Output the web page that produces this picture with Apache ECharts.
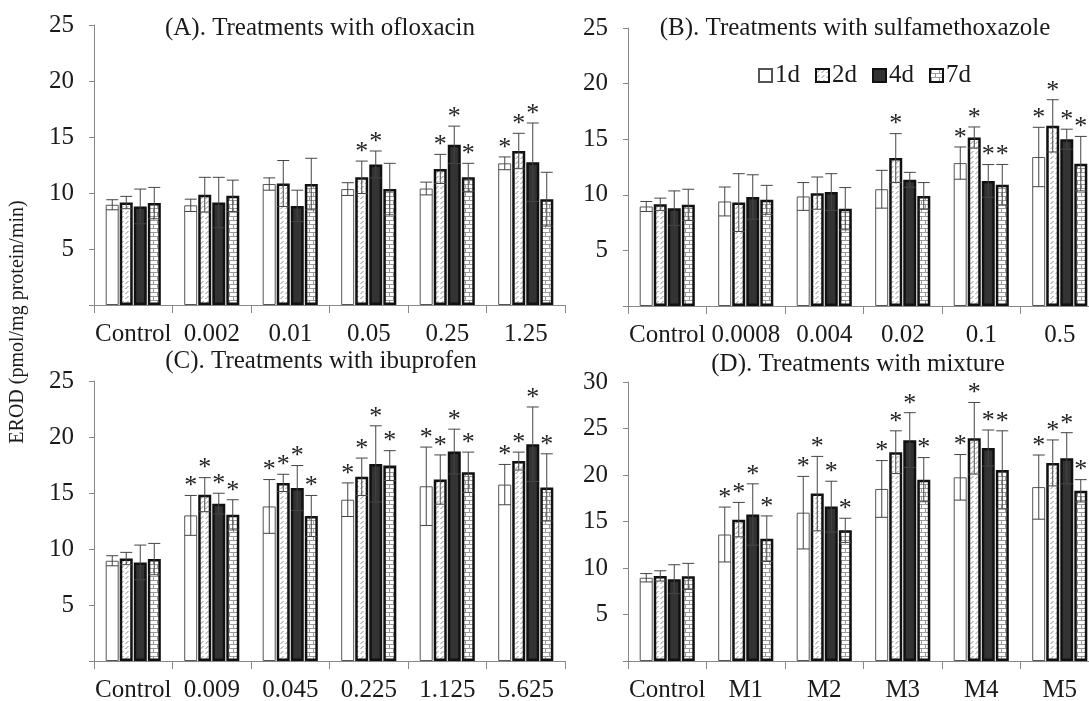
<!DOCTYPE html>
<html>
<head>
<meta charset="utf-8">
<script src="https://cdn.jsdelivr.net/npm/echarts@6/dist/echarts.min.js"></script>
<style>
html,body{margin:0;padding:0;background:#fff;}
#chart{width:1089px;height:701px;}
</style>
</head>
<body>
<div id="chart"></div>
<script>
// ---------- DATA ----------
const days = ['1d', '2d', '4d', '7d'];

const catsA = ['Control', '0.002', '0.01', '0.05', '0.25', '1.25'];
const catsB = ['Control', '0.0008', '0.004', '0.02', '0.1', '0.5'];
const catsC = ['Control', '0.009', '0.045', '0.225', '1.125', '5.625'];
const catsD = ['Control', 'M1', 'M2', 'M3', 'M4', 'M5'];

const titles = [
  '(A). Treatments with ofloxacin',
  '(B). Treatments with sulfamethoxazole',
  '(C). Treatments with ibuprofen',
  '(D). Treatments with mixture'
];
const yAxisName = 'EROD (pmol/mg protein/min)';
const yMaxes = [25, 25, 25, 30];

// rows: 1d, 2d, 4d, 7d ; columns: categories
const meansA = [
  [8.95, 8.9, 10.8, 10.35, 10.4, 12.65],
  [9.15, 9.85, 10.85, 11.4, 12.15, 13.75],
  [8.8, 9.15, 8.85, 12.55, 14.3, 12.75],
  [9.1, 9.75, 10.8, 10.35, 11.4, 9.45]
];
const errsA = [
  [0.45, 0.55, 0.55, 0.57, 0.57, 0.57],
  [0.55, 1.55, 2.05, 1.45, 1.3, 1.58],
  [1.55, 2.25, 1.4, 1.2, 1.67, 3.5],
  [1.4, 1.4, 2.3, 2.3, 1.25, 2.4]
];
const starsA = [
  [0, 0, 0, 0, 0, 1],
  [0, 0, 0, 1, 1, 1],
  [0, 0, 0, 1, 1, 1],
  [0, 0, 0, 0, 1, 0]
];

const meansB = [
  [8.95, 9.4, 9.85, 10.5, 12.85, 13.4],
  [9.15, 9.3, 10.15, 13.3, 15.15, 16.2],
  [8.8, 9.8, 10.25, 11.35, 11.25, 15.0],
  [9.1, 9.55, 8.75, 9.9, 10.9, 12.8]
];
const errsB = [
  [0.45, 1.3, 1.25, 1.7, 1.45, 2.67],
  [0.55, 2.6, 1.45, 2.2, 0.95, 2.35],
  [1.55, 2.0, 1.65, 0.67, 1.47, 0.9],
  [1.4, 1.3, 1.9, 1.2, 1.83, 2.45]
];
const starsB = [
  [0, 0, 0, 0, 1, 1],
  [0, 0, 0, 1, 1, 1],
  [0, 0, 0, 0, 1, 1],
  [0, 0, 0, 0, 1, 1]
];

const meansC = [
  [8.95, 13.0, 13.8, 14.4, 15.6, 15.75],
  [9.15, 14.85, 15.9, 16.45, 16.2, 17.85],
  [8.8, 14.05, 15.45, 17.6, 18.7, 19.35],
  [9.1, 13.05, 12.95, 17.45, 16.85, 15.5]
];
const errsC = [
  [0.45, 1.78, 2.4, 1.5, 3.5, 1.8],
  [0.55, 1.52, 0.77, 1.67, 2.2, 0.8],
  [1.55, 0.93, 2.0, 3.4, 2.0, 3.33],
  [1.4, 1.35, 1.83, 1.33, 1.8, 3.0]
];
const starsC = [
  [0, 1, 1, 1, 1, 1],
  [0, 1, 1, 1, 1, 1],
  [0, 1, 1, 1, 1, 1],
  [0, 1, 1, 1, 1, 1]
];

const meansD = [
  [8.95, 13.6, 15.95, 18.5, 19.75, 18.7],
  [9.15, 15.2, 18.0, 22.45, 23.95, 21.3],
  [8.8, 15.75, 16.6, 23.75, 22.9, 21.8],
  [9.1, 13.15, 14.05, 19.5, 20.55, 18.3]
];
const errsD = [
  [0.45, 2.95, 3.9, 3.05, 2.45, 3.45],
  [0.55, 1.85, 4.0, 2.3, 3.85, 2.47],
  [1.55, 3.3, 2.73, 2.95, 1.94, 2.75],
  [1.4, 2.45, 1.3, 2.37, 4.2, 1.2]
];
const starsD = [
  [0, 1, 1, 1, 1, 1],
  [0, 1, 1, 1, 1, 1],
  [0, 1, 1, 1, 1, 1],
  [0, 1, 1, 1, 1, 1]
];

// ---------- STYLE / LAYOUT ----------
const FONT = '"Liberation Serif", "Times New Roman", serif';
const panels = [
  {cats: catsA, means: meansA, errs: errsA, stars: starsA, grid: {left: 94, top: 25, width: 471, height: 280}, title: [320, 30]},
  {cats: catsB, means: meansB, errs: errsB, stars: starsB, grid: {left: 628, top: 28, width: 471, height: 278}, title: [855, 30]},
  {cats: catsC, means: meansC, errs: errsC, stars: starsC, grid: {left: 94, top: 381, width: 471, height: 280}, title: [321, 363]},
  {cats: catsD, means: meansD, errs: errsD, stars: starsD, grid: {left: 628, top: 382, width: 471, height: 279}, title: [858, 366]}
];

function makeHatch() {
  const c = document.createElement('canvas');
  c.width = 5; c.height = 5;
  const g = c.getContext('2d');
  g.fillStyle = '#fff'; g.fillRect(0, 0, 5, 5);
  g.strokeStyle = '#8a8a8a'; g.lineWidth = 1;
  g.beginPath(); g.moveTo(0.5, 4); g.lineTo(3.5, 1); g.stroke();
  return c;
}
function makeBrick() {
  const c = document.createElement('canvas');
  c.width = 8; c.height = 8;
  const g = c.getContext('2d');
  g.fillStyle = '#fff'; g.fillRect(0, 0, 8, 8);
  g.strokeStyle = '#9a9a9a'; g.lineWidth = 1;
  g.beginPath();
  g.moveTo(0, 0.5); g.lineTo(8, 0.5);
  g.moveTo(0, 4.5); g.lineTo(8, 4.5);
  g.moveTo(1.5, 0.5); g.lineTo(1.5, 4.5);
  g.moveTo(5.5, 4.5); g.lineTo(5.5, 8);
  g.stroke();
  return c;
}

const barStyles = [
  {color: '#ffffff', borderColor: '#555', borderWidth: 1},
  {color: {image: makeHatch(), repeat: 'repeat'}, borderColor: '#111', borderWidth: 2.5},
  {color: '#333333', borderColor: '#111', borderWidth: 2.5},
  {color: {image: makeBrick(), repeat: 'repeat'}, borderColor: '#111', borderWidth: 2.5}
];
const BAR_W = 13, STEP = 14;

const grids = [], xAxes = [], yAxes = [], series = [], titleOpts = [];
panels.forEach((p, gi) => {
  grids.push(Object.assign({containLabel: false, outerBoundsMode: 'none'}, p.grid));
  titleOpts.push({
    text: titles[gi], left: p.title[0], top: p.title[1] - 14, textAlign: 'center', padding: 0,
    textStyle: {fontFamily: FONT, fontSize: 25, fontWeight: 'normal', color: '#1a1a1a'}
  });
  xAxes.push({
    type: 'category', gridIndex: gi, data: p.cats, boundaryGap: true,
    axisLine: {lineStyle: {color: '#888', width: 1}},
    axisTick: {show: true, alignWithLabel: false, length: 8, lineStyle: {color: '#888'}},
    axisLabel: {fontFamily: FONT, fontSize: 25, color: '#1a1a1a', margin: 17, interval: 0},
    splitLine: {show: false}
  });
  yAxes.push({
    type: 'value', gridIndex: gi, min: 0, max: yMaxes[gi], interval: 5,
    axisLine: {show: true, lineStyle: {color: '#888', width: 1}},
    axisTick: {show: true, length: 5, lineStyle: {color: '#888'}},
    axisLabel: {fontFamily: FONT, fontSize: 25, color: '#1a1a1a', margin: 20,
      formatter: v => (v === 0 ? '' : String(v))},
    splitLine: {show: false}
  });
  days.forEach((d, di) => {
    series.push({
      type: 'bar', name: d, xAxisIndex: gi, yAxisIndex: gi,
      data: p.means[di], barWidth: BAR_W, barGap: '8%', barCategoryGap: '30%',
      itemStyle: barStyles[di], z: 2, silent: true
    });
  });
  const ebData = [];
  p.cats.forEach((c, ci) => {
    days.forEach((d, di) => {
      ebData.push([ci, di, p.means[di][ci], p.errs[di][ci], p.stars[di][ci]]);
    });
  });
  series.push({
    type: 'custom', xAxisIndex: gi, yAxisIndex: gi, z: 5, silent: true,
    encode: {x: 0, y: 2},
    data: ebData,
    renderItem: function (params, api) {
      const ci = api.value(0), di = api.value(1), m = api.value(2), e = api.value(3), s = api.value(4);
      const top = api.coord([ci, m + e]);
      const bot = api.coord([ci, m - e]);
      const x = top[0] + (di - 1.5) * STEP;
      const hw = 6;
      const ls = {stroke: '#444', lineWidth: 1};
      const children = [
        {type: 'line', shape: {x1: x, y1: top[1], x2: x, y2: bot[1]}, style: ls},
        {type: 'line', shape: {x1: x - hw, y1: top[1], x2: x + hw, y2: top[1]}, style: ls},
        {type: 'line', shape: {x1: x - hw, y1: bot[1], x2: x + hw, y2: bot[1]}, style: ls}
      ];
      if (s) {
        children.push({
          type: 'text', x: x, y: top[1] + 4,
          style: {text: '*', font: '26px ' + FONT, fill: '#222', textAlign: 'center', textVerticalAlign: 'bottom'}
        });
      }
      return {type: 'group', children: children};
    }
  });
});

const chart = echarts.init(document.getElementById('chart'), null, {renderer: 'canvas'});
chart.setOption({
  animation: false,
  backgroundColor: '#fff',
  title: titleOpts,
  legend: {
    data: days, left: 753, top: 58, itemWidth: 13, itemHeight: 13, itemGap: 15,
    icon: 'rect', selectedMode: false,
    textStyle: {fontFamily: FONT, fontSize: 25, color: '#1a1a1a', padding: [0, 0, 0, -2]}
  },
  grid: grids,
  xAxis: xAxes,
  yAxis: yAxes,
  series: series,
  graphic: [{
    type: 'text', x: 18, y: 322, rotation: Math.PI / 2,
    style: {text: yAxisName, font: '20px ' + FONT, fill: '#1a1a1a', textAlign: 'center', textVerticalAlign: 'middle'}
  }]
});
</script>
</body>
</html>
